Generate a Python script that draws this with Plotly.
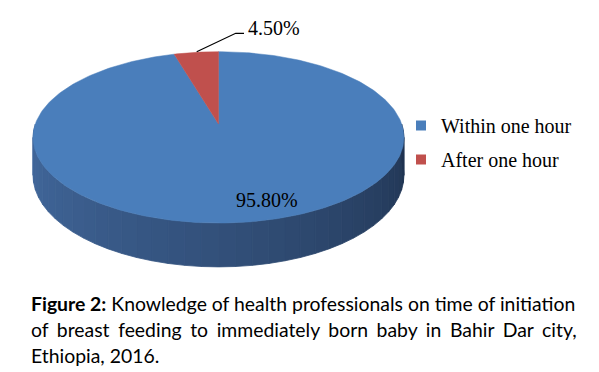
import numpy as np
import plotly.graph_objects as go

categories = ["Within one hour", "After one hour"]
values = [95.80, 4.50]
colors = ["#4a7ebb", "#c0504d"]
caption_lines = [
    "<b>Figure 2:</b> Knowledge of health professionals on time of initiation",
    "of breast feeding to immediately born baby in Bahir Dar city,",
    "Ethiopia, 2016.",
]

W, H = 599, 372
# 3-D pie geometry (pixels)
CX, CY = 218.5, 124.0
A, K, RX = 83.6, 0.156, 183.2
DEPTH = 37.0


def proj(theta_deg, drop=0.0):
    t = np.radians(theta_deg)
    x = np.sin(t)
    z = np.cos(t)
    s = 1.0 / (1.0 + K * z)
    X = CX + RX * x * s
    Y = CY - A * z * s + drop * s
    return X, Y


fig = go.Figure()

# side wall (front half), shaded strips
n = 40
side_light = np.array([0x43, 0x6a, 0x9f])
side_dark = np.array([0x20, 0x33, 0x50])
edges = np.linspace(270, 90, n + 1)
for i in range(n):
    a0, a1 = edges[i], edges[i + 1]
    ts = np.linspace(a0, a1, 6)
    xt, yt = proj(ts)
    xb, yb = proj(ts[::-1], DEPTH)
    frac = i / (n - 1)
    c = side_light + (side_dark - side_light) * frac ** 1.1
    col = "rgb(%d,%d,%d)" % tuple(c.astype(int))
    fig.add_trace(go.Scatter(
        x=np.concatenate([xt, xb, xt[:1]]), y=np.concatenate([yt, yb, yt[:1]]),
        mode="lines", fill="toself", fillcolor=col,
        line=dict(color=col, width=0.8), hoverinfo="skip", showlegend=False))

# top face slices
total = sum(values)
start = 0.0
for cat, v, col in zip(categories, values, colors):
    span = v / total * 360.0
    ts = np.linspace(start, start + span, max(int(span), 4))
    xs, ys = proj(ts)
    fig.add_trace(go.Scatter(
        x=np.concatenate([[CX], xs, [CX]]), y=np.concatenate([[CY], ys, [CY]]),
        mode="lines", fill="toself", fillcolor=col, line=dict(color=col, width=0.5),
        hoverinfo="skip", showlegend=False))
    start += span

# legend entries
for i, (cat, col) in enumerate(zip(categories, colors)):
    fig.add_trace(go.Scatter(
        x=[None], y=[None], mode="markers", name=cat, legendgroup="g%d" % i,
        marker=dict(symbol="square", size=10, color=col), showlegend=True))

# data labels
fig.add_annotation(x=267, y=200, text="%.2f%%" % values[0], showarrow=False,
                   font=dict(family="Liberation Serif", size=20, color="#000"))
fig.add_annotation(x=246, y=28, text="%.2f%%" % values[1], showarrow=False,
                   xanchor="left", font=dict(family="Liberation Serif", size=20, color="#000"))
fig.add_shape(type="path", path="M 196.7 51.7 L 235.7 33.3 L 244 33.3",
              line=dict(color="#000", width=1.2), xref="x", yref="y")

# caption (second line justified with extra word spacing)
cap = list(caption_lines)
cap[1] = cap[1].replace(" ", " \u2009\u200a")
for i, line in enumerate(cap):
    fig.add_annotation(x=29, y=303 + i * 26, text=line, showarrow=False, xanchor="left",
                       font=dict(family="Lato", size=19.4, color="#000"))

fig.update_layout(
    width=W, height=H, margin=dict(l=0, r=0, t=0, b=0),
    paper_bgcolor="white", plot_bgcolor="white",
    xaxis=dict(range=[0, W], visible=False, fixedrange=True),
    yaxis=dict(range=[H, 0], visible=False, fixedrange=True),
    legend=dict(x=401 / W, y=1 - 106 / H, xanchor="left", yanchor="top",
                font=dict(family="Liberation Serif", size=20, color="#000"),
                tracegroupgap=5, bgcolor="rgba(0,0,0,0)"),
)
fig.write_html("out.html")
